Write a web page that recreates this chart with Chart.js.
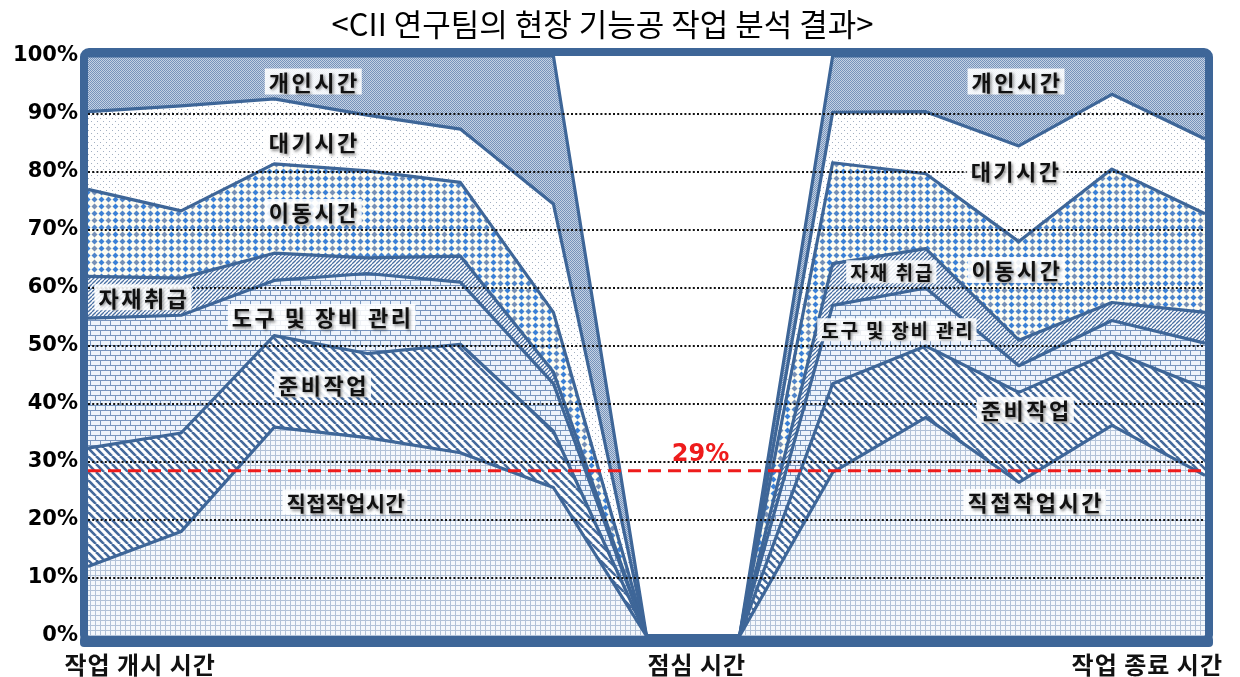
<!DOCTYPE html>
<html>
<head>
<meta charset="utf-8">
<script src="https://cdn.jsdelivr.net/npm/chart.js@4.4.0/dist/chart.umd.min.js"></script>
<style>
html,body{margin:0;padding:0;background:#fff;}
#wrap{width:1240px;height:677px;position:relative;}
canvas{display:block;}
</style>
</head>
<body>
<div id="wrap"><canvas id="c" width="1240" height="677"></canvas></div>
<script>
// ---------------- data ----------------
const categories = ['T1','T2','T3','T4','T5','T6','T7','T8','T9','T10','T11','T12','T13'];
const directWork  = [12, 18, 36, 34.2, 31.6, 25.6, 0, 0, 28.2, 37.7, 26.5, 36.3, 27.7];
const preparation = [20.4, 17, 15.8, 14.5, 18.7, 9.7, 0, 0, 15.3, 12.3, 15.5, 12.7, 15];
const toolMgmt    = [22.4, 20.3, 9.5, 13.8, 10.7, 8.2, 0, 0, 13.5, 10, 4.6, 5.4, 7.8];
const material    = [7.2, 6.4, 4.7, 2.7, 4.5, 2, 0, 0, 7.2, 6.8, 4.4, 3.1, 5.3];
const movement    = [15, 11.6, 15.4, 15, 12.7, 10.3, 0, 0, 17.4, 12.9, 17, 23, 17];
const waiting     = [13.4, 18.1, 11.2, 9.6, 9.2, 18.7, 0, 0, 8.7, 10.7, 16.5, 12.9, 12.9];
const personal    = [9.6, 8.6, 7.4, 10.2, 12.6, 25.5, 0, 0, 9.7, 9.6, 15.5, 6.6, 14.3];
const seriesNames = ['직접작업시간','준비작업','도구 및 장비 관리','자재취급','이동시간','대기시간','개인시간'];
const yTickValues = [0,10,20,30,40,50,60,70,80,90,100];
const yTickLabels = ['0%','10%','20%','30%','40%','50%','60%','70%','80%','90%','100%'];
const referenceValue = 28.5;
const referenceLabel = '29%';
const titleText = '<CII 연구팀의 현장 기능공 작업 분석 결과>';
const axisLabels = ['작업 개시 시간','점심 시간','작업 종료 시간'];
const axisLabelIndex = [0.56, 6.54, 11.38];
const areaLabels = ['개인시간','대기시간','이동시간','자재취급','도구 및 장비 관리','준비작업','직접작업시간',
                    '개인시간','대기시간','이동시간','자재 취급','도구 및 장비 관리','준비작업','직접작업시간'];
const areaLabelIndex = [2.42, 2.42, 2.42, 0.59, 2.51, 2.52, 2.76, 9.97, 9.96, 9.97, 8.63, 8.69, 10.07, 10.17];
const areaLabelValue = [95.6, 85.2, 73.1, 58.4, 55.0, 43.4, 23.1, 95.6, 80.2, 63.1, 62.8, 52.8, 39.0, 23.1];
const referenceLabelIndex = 6.58;
const referenceLabelValue = 31.2;

// label styles (font size px, letter spacing px)
const areaLabelFont = [22,22,22,22,22,22,21, 22,22,22,19,19,22,22];
const areaLabelSpacing = [2.5,2.5,2.5,2.5,2.5,2.5,0.5, 2.5,2.5,2.5,2,1.8,2.5,2.5];

// ---------------- patterns ----------------
const canvas = document.getElementById('c');
const ctx = canvas.getContext('2d');
function makePattern(w, h, draw) {
  const c = document.createElement('canvas');
  c.width = w; c.height = h;
  const g = c.getContext('2d');
  draw(g, w, h);
  return ctx.createPattern(c, 'repeat');
}
const pDirect = makePattern(5, 5, (g) => {
  g.fillStyle = '#f5f8fc'; g.fillRect(0,0,5,5);
  g.fillStyle = '#b2c2d8';
  g.fillRect(0,0,5,1); g.fillRect(0,0,1,5);
});
const pPrep = makePattern(8, 8, (g) => {
  g.fillStyle = '#ffffff'; g.fillRect(0,0,8,8);
  g.strokeStyle = '#44699b'; g.lineWidth = 2.6;
  for (let k = -1; k <= 1; k++) { g.beginPath(); g.moveTo(k*8, 0); g.lineTo(k*8+8, 8); g.stroke(); }
});
const pTool = makePattern(10, 10, (g) => {
  g.fillStyle = '#edf3fb'; g.fillRect(0,0,10,10);
  g.fillStyle = '#7895bf';
  g.fillRect(0,0,10,1); g.fillRect(0,5,10,1);
  g.fillRect(0,0,1,5); g.fillRect(5,5,1,5);
});
const pMaterial = makePattern(4, 4, (g) => {
  g.fillStyle = '#ffffff'; g.fillRect(0,0,4,4);
  g.strokeStyle = '#4a70a3'; g.lineWidth = 1.3;
  for (let k = -1; k <= 1; k++) { g.beginPath(); g.moveTo(k*4, 4); g.lineTo(k*4+4, 0); g.stroke(); }
});
const pMove = makePattern(14, 14, (g) => {
  g.fillStyle = '#fdfcf2'; g.fillRect(0,0,14,14);
  const cols = ['#3a80d6','#4f84c8','#3a80d6','#7690b6'];
  const cs = [[3.5,3.5],[10.5,3.5],[3.5,10.5],[10.5,10.5]];
  cs.forEach((c, i) => {
    g.fillStyle = cols[i];
    g.beginPath(); g.moveTo(c[0], c[1]-3); g.lineTo(c[0]+3, c[1]); g.lineTo(c[0], c[1]+3); g.lineTo(c[0]-3, c[1]); g.closePath(); g.fill();
  });
});
const pWait = makePattern(6, 6, (g) => {
  g.fillStyle = '#ffffff'; g.fillRect(0,0,6,6);
  g.fillStyle = '#a3b0c2';
  g.fillRect(1,1,1,1); g.fillRect(4,4,1,1);
});
const pPersonal = makePattern(2, 2, (g) => {
  g.fillStyle = '#c4d1e3'; g.fillRect(0,0,2,2);
  g.fillStyle = '#7693bb'; g.fillRect(0,0,1,1); g.fillRect(1,1,1,1);
});
const patterns = [pDirect, pPrep, pTool, pMaterial, pMove, pWait, pPersonal];
const seriesData = [directWork, preparation, toolMgmt, material, movement, waiting, personal];

const LINE = '#3e6698';
const KFONT = '"Noto Sans CJK KR", "Noto Sans", sans-serif';

// ---------------- overlay plugin ----------------
const overlay = {
  id: 'overlay',
  afterDatasetsDraw(chart) {
    const g = chart.ctx, a = chart.chartArea, x = chart.scales.x, y = chart.scales.y;
    g.save();
    // dotted grid lines over the areas
    g.strokeStyle = '#111'; g.lineWidth = 2; g.setLineDash([2, 2.2]);
    yTickValues.forEach(v => {
      if (v <= 0 || v >= 100) return;
      const py = Math.round(y.getPixelForValue(v));
      g.beginPath(); g.moveTo(a.left, py); g.lineTo(a.right, py); g.stroke();
    });
    // reference dashed red line
    g.setLineDash([13, 7]);
    g.strokeStyle = '#ee1c1c'; g.lineWidth = 3;
    const ry = y.getPixelForValue(referenceValue);
    g.beginPath(); g.moveTo(a.left, ry); g.lineTo(a.right + 4, ry); g.stroke();
    g.setLineDash([]);
    g.font = 'bold 24px "DejaVu Sans", sans-serif';
    g.fillStyle = '#ee1c1c'; g.textAlign = 'center'; g.textBaseline = 'middle';
    g.fillText(referenceLabel, x.getPixelForValue(referenceLabelIndex), y.getPixelForValue(referenceLabelValue));
    // area labels
    areaLabels.forEach((t, i) => {
      const fs = areaLabelFont[i];
      g.font = 'bold ' + fs + 'px ' + KFONT;
      g.letterSpacing = areaLabelSpacing[i] + 'px';
      const px = x.getPixelForValue(areaLabelIndex[i]);
      const py = y.getPixelForValue(areaLabelValue[i]);
      const w = g.measureText(t).width;
      const h = fs + 4;
      g.fillStyle = 'rgba(255,255,255,0.88)';
      g.fillRect(px - w/2 - 3, py - h/2, w + 6, h);
      g.shadowColor = 'rgba(0,0,0,0.45)'; g.shadowBlur = 3; g.shadowOffsetX = 1.5; g.shadowOffsetY = 1.5;
      g.fillStyle = '#111';
      g.textAlign = 'center'; g.textBaseline = 'middle';
      g.fillText(t, px + 1, py + 1);
      g.shadowColor = 'transparent'; g.shadowBlur = 0; g.shadowOffsetX = 0; g.shadowOffsetY = 0;
    });
    g.restore();
  },
  afterDraw(chart) {
    const g = chart.ctx, a = chart.chartArea, x = chart.scales.x;
    g.save();
    // frame
    g.strokeStyle = LINE; g.lineWidth = 8; g.lineJoin = 'round';
    g.beginPath();
    g.roundRect(a.left - 4, a.top - 4, a.right - a.left + 8, a.bottom - a.top + 8, 5);
    g.stroke();
    g.fillStyle = LINE;
    g.beginPath();
    g.roundRect(a.left - 8, a.bottom, a.right - a.left + 16, 11, 4);
    g.fill();
    // category axis labels
    g.font = 'bold 24px ' + KFONT;
    g.letterSpacing = '1px';
    g.fillStyle = '#111'; g.textAlign = 'center'; g.textBaseline = 'middle';
    axisLabels.forEach((t, i) => {
      g.fillText(t, x.getPixelForValue(axisLabelIndex[i]), a.bottom + 29);
    });
    g.restore();
  }
};

new Chart(ctx, {
  type: 'line',
  data: {
    labels: categories,
    datasets: seriesData.map((d, i) => ({
      label: seriesNames[i],
      data: d,
      fill: i === 0 ? 'origin' : '-1',
      backgroundColor: patterns[i],
      borderColor: LINE,
      borderWidth: 3.2,
      pointRadius: 0,
      tension: 0,
      borderJoinStyle: 'round'
    }))
  },
  options: {
    responsive: false,
    animation: false,
    devicePixelRatio: 1,
    layout: { padding: { left: 0, right: 35, top: 0, bottom: 41 } },
    plugins: {
      legend: { display: false },
      tooltip: { enabled: false },
      title: {
        display: true, text: titleText, color: '#000',
        font: { family: KFONT, size: 31, weight: 'normal' },
        padding: { top: 6, bottom: 12.8 }
      }
    },
    scales: {
      x: { display: false },
      y: {
        stacked: true, min: 0, max: 100,
        afterFit(s) { s.width = 88; },
        afterBuildTicks(s) { s.ticks = yTickValues.map(v => ({ value: v })); },
        ticks: {
          callback: (v) => yTickLabels[yTickValues.indexOf(v)],
          color: '#000', padding: 10,
          font: { family: '"DejaVu Sans", sans-serif', size: 21, weight: 'bold' }
        },
        grid: { display: false, drawTicks: false },
        border: { display: false }
      }
    }
  },
  plugins: [overlay]
});
</script>
</body>
</html>
